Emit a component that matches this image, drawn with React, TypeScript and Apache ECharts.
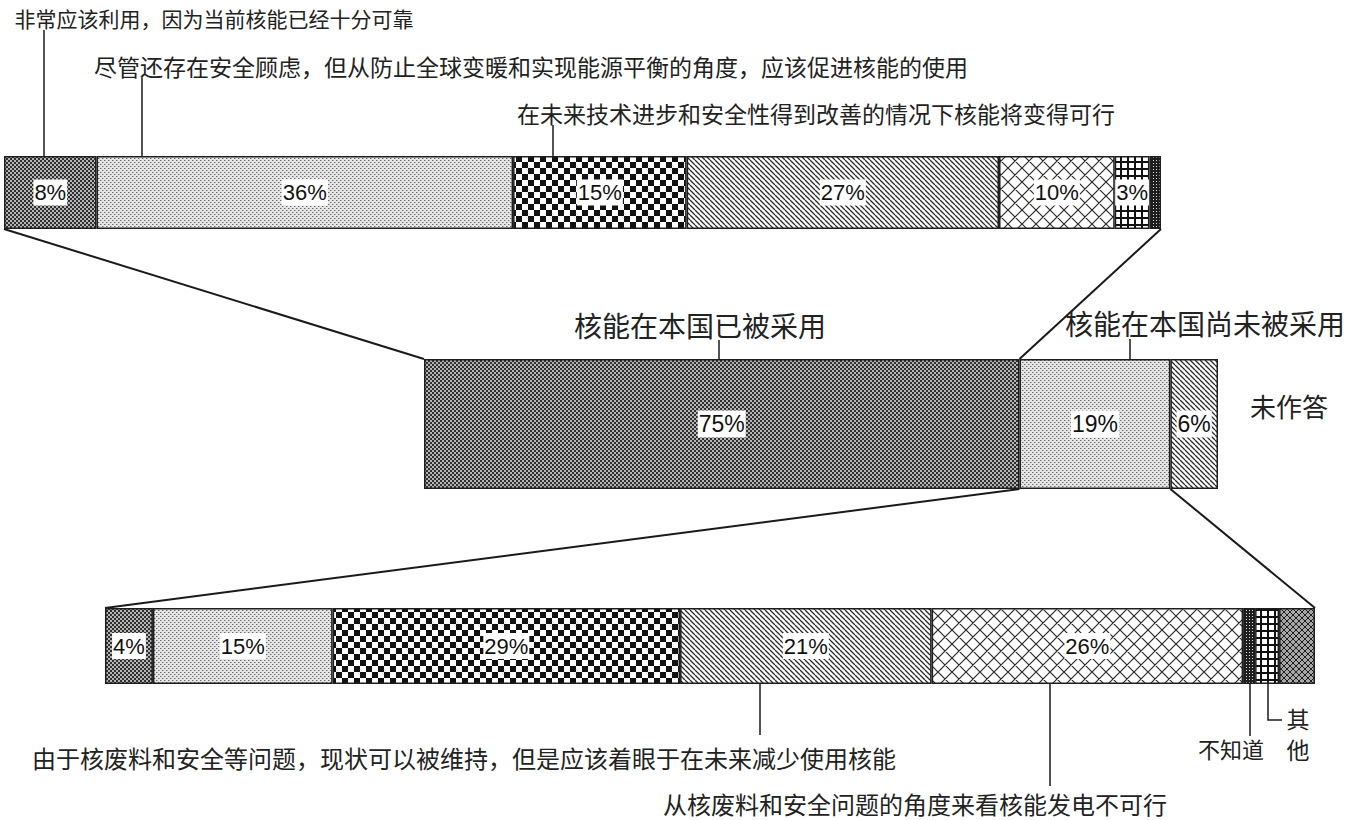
import React, { useEffect, useRef } from 'react';
import * as echarts from 'echarts';

// ---- data ----
const topNames = ['非常应该利用', '应该促进核能的使用', '未来可行', '应该减少使用核能', '核能发电不可行', '其他', '不知道'];
const topValues = [8, 36, 15, 27, 10, 3, 1];
const topLabelCount = 6;

const midNames = ['核能在本国已被采用', '核能在本国尚未被采用', '未作答'];
const midValues = [75, 19, 6];
const midLabelCount = 3;

const bottomNames = ['非常应该利用', '应该促进核能的使用', '未来可行', '应该减少使用核能', '核能发电不可行', '不知道', '其他', '未作答'];
const bottomValues = [4, 15, 29, 21, 26, 1, 2, 3];
const bottomLabelCount = 5;

const topPatterns = ['darkDots', 'lightDots', 'checker', 'diag', 'cross', 'grid', 'tinyDots'];
const midPatterns = ['darkDots', 'lightDots', 'diag'];
const bottomPatterns = ['darkDots', 'lightDots', 'checker', 'diag', 'cross', 'tinyDots', 'grid', 'darkDiamond'];

const CJK = '"Noto Sans CJK SC", "Noto Sans", sans-serif';
const LATIN = '"Liberation Sans", Arial, sans-serif';

function makePattern(kind: string): any {
  const c = document.createElement('canvas');
  let s = 4;
  if (kind === 'checker') s = 12;
  if (kind === 'diag') s = 5;
  if (kind === 'cross') s = 14;
  if (kind === 'grid') s = 7;
  if (kind === 'tinyDots') s = 3;
  if (kind === 'darkDiamond') s = 6;
  c.width = s;
  c.height = s;
  const g = c.getContext('2d')!;
  const fill = (col: string) => { g.fillStyle = col; g.fillRect(0, 0, s, s); };
  const diagLines = (dir: number) => {
    for (const k of [-s, 0, s]) {
      if (dir > 0) { g.moveTo(k, 0); g.lineTo(k + s, s); }
      else { g.moveTo(k + s, 0); g.lineTo(k, s); }
    }
  };
  switch (kind) {
    case 'darkDots':
      fill('#b4b4b4');
      g.fillStyle = '#303030';
      g.fillRect(0, 0, 2, 2);
      g.fillRect(2, 2, 2, 2);
      break;
    case 'lightDots':
      fill('#e6e6e6');
      g.fillStyle = '#6a6a6a';
      g.fillRect(0, 0, 1, 1);
      g.fillRect(2, 2, 1, 1);
      g.fillStyle = '#b0b0b0';
      g.fillRect(1, 0, 1, 1);
      g.fillRect(3, 2, 1, 1);
      break;
    case 'checker':
      fill('#ffffff');
      g.fillStyle = '#111111';
      g.fillRect(0, 0, 6, 6);
      g.fillRect(6, 6, 6, 6);
      break;
    case 'diag':
      fill('#ffffff');
      g.strokeStyle = '#2a2a2a';
      g.lineWidth = 1.3;
      g.beginPath();
      diagLines(1);
      g.stroke();
      break;
    case 'cross':
      fill('#ffffff');
      g.strokeStyle = '#2a2a2a';
      g.lineWidth = 1.2;
      g.beginPath();
      diagLines(1);
      diagLines(-1);
      g.stroke();
      break;
    case 'grid':
      fill('#ffffff');
      g.fillStyle = '#111111';
      g.fillRect(0, 0, s, 2);
      g.fillRect(0, 0, 2, s);
      break;
    case 'tinyDots':
      fill('#1e1e1e');
      g.fillStyle = '#e0e0e0';
      g.fillRect(1, 1, 1, 1);
      break;
    case 'darkDiamond':
      fill('#a8a8a8');
      g.strokeStyle = '#1e1e1e';
      g.lineWidth = 1;
      g.beginPath();
      diagLines(1);
      diagLines(-1);
      g.stroke();
      break;
  }
  return { image: c, repeat: 'repeat', imageWidth: s, imageHeight: s };
}

const grids = [
  { left: 4, top: 156, width: 1157, height: 73 },
  { left: 424, top: 359, width: 794, height: 130 },
  { left: 105, top: 608, width: 1210, height: 76 },
];

export default function App() {
  const ref = useRef<HTMLDivElement>(null);
  useEffect(() => {
    if (!ref.current) return;
    const chart = echarts.init(ref.current, undefined, { renderer: 'svg' });
    const bars = [
      { names: topNames, values: topValues, pats: topPatterns, nLab: topLabelCount },
      { names: midNames, values: midValues, pats: midPatterns, nLab: midLabelCount },
      { names: bottomNames, values: bottomValues, pats: bottomPatterns, nLab: bottomLabelCount },
    ];
    const series: any[] = [];
    bars.forEach((b, gi) => {
      b.values.forEach((v, i) => {
        series.push({
          type: 'bar',
          name: b.names[i],
          xAxisIndex: gi,
          yAxisIndex: gi,
          stack: 'bar' + gi,
          barWidth: '100%',
          data: [v],
          itemStyle: { color: makePattern(b.pats[i]), borderColor: '#1e1e1e', borderWidth: 1.5 },
          label: {
            show: i < b.nLab,
            position: 'inside',
            formatter: '{c}%',
            fontFamily: LATIN,
            fontSize: gi === 1 ? 23 : 22,
            color: '#111',
            backgroundColor: '#ffffff',
            padding: [3, 1, 1, 1],
          },
          emphasis: { disabled: true },
        });
      });
    });
    const sums = bars.map((b) => b.values.reduce((a, c) => a + c, 0));
    chart.setOption({
      animation: false,
      backgroundColor: '#ffffff',
      grid: grids.map((g) => ({ ...g, containLabel: false })),
      xAxis: grids.map((_, i) => ({ type: 'value', gridIndex: i, min: 0, max: sums[i], show: false })),
      yAxis: grids.map((_, i) => ({ type: 'category', gridIndex: i, data: ['x'], show: false })),
      series,
    });

    const px = (gi: number, v: number) => chart.convertToPixel({ xAxisIndex: gi }, v) as number;
    const topB = grids[0].top + grids[0].height;
    const midT = grids[1].top;
    const midB = grids[1].top + grids[1].height;
    const botT = grids[2].top;
    const midCut1 = midValues[0];
    const midCut2 = midValues[0] + midValues[1];

    const line = (x1: number, y1: number, x2: number, y2: number, w = 1.5) => ({
      type: 'line',
      shape: { x1, y1, x2, y2 },
      style: { stroke: '#1a1a1a', lineWidth: w },
      silent: true,
    });
    const text = (t: string, x: number, y: number, size: number) => ({
      type: 'text',
      x,
      y,
      style: {
        text: t,
        fontSize: size,
        fontFamily: CJK,
        fill: '#222',
        align: 'center',
        verticalAlign: 'middle',
        textAlign: 'center',
        textVerticalAlign: 'middle',
      },
      silent: true,
    });

    const graphic: any[] = [
      // connectors
      line(px(0, 0), topB, px(1, 0), midT, 2),
      line(px(0, sums[0]), topB, px(1, midCut1), midT, 2),
      line(px(1, midCut1), midB, px(2, 0), botT, 2),
      line(px(1, midCut2), midB, px(2, sums[2]), botT, 2),
      // top annotations
      text('非常应该利用，因为当前核能已经十分可靠', 214, 18, 21),
      line(44, 30, 44, 168),
      text('尽管还存在安全顾虑，但从防止全球变暖和实现能源平衡的角度，应该促进核能的使用', 531, 66, 23),
      line(142, 78, 142, 168),
      text('在未来技术进步和安全性得到改善的情况下核能将变得可行', 816, 113, 23),
      line(553, 125, 553, 168),
      // middle annotations
      text('核能在本国已被采用', 700, 325, 28),
      line(719, 340, 719, 383),
      text('核能在本国尚未被采用', 1205, 323, 28),
      line(1130, 339, 1130, 385),
      text('未作答', 1289, 405, 26),
      // bottom annotations
      text('由于核废料和安全等问题，现状可以被维持，但是应该着眼于在未来减少使用核能', 464, 757, 24),
      line(760, 665, 760, 735),
      text('从核废料和安全问题的角度来看核能发电不可行', 915, 803, 24),
      line(1050, 665, 1050, 786),
      text('不知道', 1231, 748, 22),
      line(1250, 684, 1250, 736),
      text('其', 1298, 718, 23),
      text('他', 1298, 749, 23),
      {
        type: 'polyline',
        shape: { points: [[1268, 684], [1268, 720], [1282, 720]] },
        style: { stroke: '#1a1a1a', lineWidth: 1.5, fill: 'none' },
        silent: true,
      },
    ];
    chart.setOption({ graphic });
    return () => chart.dispose();
  }, []);
  return (
    <div
      ref={ref}
      style={{ position: 'absolute', left: 0, top: 0, width: 1367, height: 820, background: '#fff' }}
    />
  );
}
